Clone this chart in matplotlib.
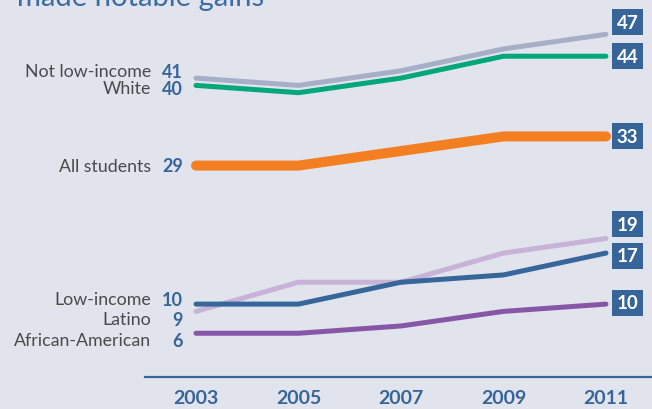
import matplotlib
matplotlib.use("Agg")
import matplotlib.pyplot as plt

plt.rcParams['font.family'] = ['Lato', 'DejaVu Sans']

years = [2003, 2005, 2007, 2009, 2011]
groups = ['Not low-income', 'White', 'All students',
          'Low-income', 'Latino', 'African-American']
not_low_income = [41, 40, 42, 45, 47]
white = [40, 39, 41, 44, 44]
all_students = [29, 29, 31, 33, 33]
low_income = [10, 10, 13, 14, 17]
latino = [9, 13, 13, 17, 19]
african_american = [6, 6, 7, 9, 10]

series = {
    'Not low-income': not_low_income,
    'White': white,
    'All students': all_students,
    'Latino': latino,
    'Low-income': low_income,
    'African-American': african_american,
}

colors = {
    'Not low-income': '#a6aec8',
    'White': '#00a77a',
    'All students': '#f47f22',
    'Low-income': '#36669a',
    'Latino': '#c8b2d8',
    'African-American': '#8856a6',
}
widths = {'All students': 7.2}
# vertical nudges (points) so neighbouring labels do not collide
left_dy = {'Not low-income': 5, 'White': -2, 'All students': 0,
           'Low-income': 3.5, 'Latino': -5.5, 'African-American': -5}
right_dy = {'Not low-income': 8.6, 'White': 0, 'All students': 0,
            'Low-income': -2, 'Latino': 10.4, 'African-American': 1}

BG = '#e1e4ec'
BLUE = '#37659a'

fig = plt.figure(figsize=(6.52, 4.10), dpi=100, facecolor=BG)
ax = fig.add_axes([145 / 652, 32 / 410, 1 - 145 / 652, 378 / 410])
ax.set_facecolor(BG)
ax.set_xlim(2002.005, 2011.898)
ax.set_ylim(0, 51.85)

for name, vals in series.items():
    ax.plot(years, vals, color=colors[name], lw=widths.get(name, 3.6),
            solid_capstyle='round', solid_joinstyle='round', clip_on=False)

for name in groups:
    vals = series[name]
    ax.annotate(name, (years[0], vals[0]), xytext=(-32.4, left_dy[name]),
                textcoords='offset points', ha='right', va='center',
                fontsize=12.8, color='#4a4a4a', annotation_clip=False)
    ax.annotate(str(vals[0]), (years[0], vals[0]), xytext=(-9.4, left_dy[name]),
                textcoords='offset points', ha='right', va='center',
                fontsize=13, fontweight='bold', color=BLUE,
                annotation_clip=False)
    ax.annotate(str(vals[-1]), (years[-1], vals[-1]),
                xytext=(15.5, right_dy[name]), textcoords='offset points',
                ha='center', va='center', fontsize=13.5, fontweight='bold',
                color='white', annotation_clip=False,
                bbox=dict(boxstyle='square,pad=0.24', fc=BLUE, ec='none'))

for side in ['top', 'right', 'left']:
    ax.spines[side].set_visible(False)
ax.spines['bottom'].set_color(BLUE)
ax.spines['bottom'].set_linewidth(1.6)
ax.set_yticks([])
ax.set_xticks(years)
ax.set_xticklabels([str(y) for y in years], fontsize=14, fontweight='bold',
                   color=BLUE)
ax.tick_params(axis='x', length=0, pad=9)

fig.text(0.026, 0.985, 'made notable gains', fontsize=21, color='#3b6ba3',
         ha='left', va='baseline')

fig.savefig('out.png', dpi=100, facecolor=BG)
